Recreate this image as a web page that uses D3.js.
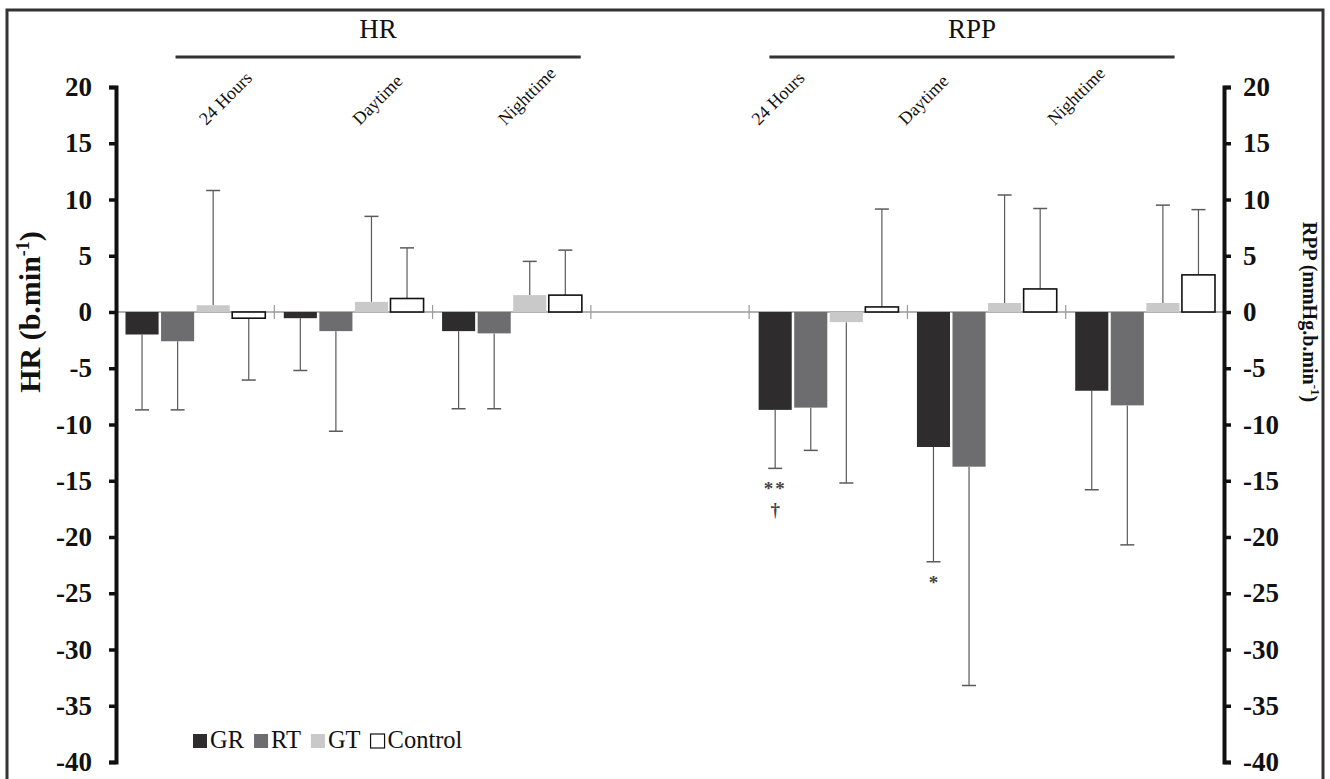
<!DOCTYPE html>
<html>
<head>
<meta charset="utf-8">
<script src="https://cdn.jsdelivr.net/npm/d3@7"></script>
<style>
  body { margin: 0; background: #fff; }
  svg text { font-family: "Liberation Serif", "Times New Roman", serif; }
</style>
</head>
<body>
<svg id="chart" width="1330" height="779"></svg>
<script>
// Categories (the empty slot separates HR from RPP)
const categories = ["HR 24 Hours", "HR Daytime", "HR Nighttime", "", "RPP 24 Hours", "RPP Daytime", "RPP Nighttime"];
const catLabels = ["24 Hours", "Daytime", "Nighttime"];
const groups = ["HR", "RPP"];
const series = ["GR", "RT", "GT", "Control"];

// Mean change per series (null = empty slot)
const grMean      = [-2.0, -0.55, -1.7, null, -8.7, -12.0, -7.0];
const rtMean      = [-2.6, -1.7, -1.9, null, -8.5, -13.75, -8.3];
const gtMean      = [0.6, 0.9, 1.5, null, -0.9, 0.8, 0.8];
const controlMean = [-0.55, 1.2, 1.5, null, 0.45, 2.05, 3.3];

// Standard deviations (one-sided error bars)
const grSD      = [6.7, 4.65, 6.9, null, 5.2, 10.2, 8.8];
const rtSD      = [6.1, 8.9, 6.7, null, 3.8, 19.45, 12.4];
const gtSD      = [10.2, 7.6, 3.0, null, 14.3, 9.6, 8.7];
const controlSD = [5.5, 4.5, 4.0, null, 8.7, 7.15, 5.8];

const yTicks = d3.range(-40, 21, 5);

// Significance marks
const notes = [
    { cat: "RPP 24 Hours", series: "GR", text: "**", line: 0 },
    { cat: "RPP 24 Hours", series: "GR", text: "\u2020", line: 1 },
    { cat: "RPP Daytime", series: "GR", text: "*", line: 0 }
];

const colors = { GR: "#2e2c2d", RT: "#6d6d6f", GT: "#c9c9c9", Control: "#ffffff" };
const means = { GR: grMean, RT: rtMean, GT: gtMean, Control: controlMean };
const sds = { GR: grSD, RT: rtSD, GT: gtSD, Control: controlSD };

const svg = d3.select("#chart");
const plotLeft = 116, plotRight = 1224, plotTop = 87, plotBottom = 762;

// frame
svg.append("rect")
    .attr("x", 7).attr("y", 10).attr("width", 1316).attr("height", 800)
    .attr("fill", "none").attr("stroke", "#333").attr("stroke-width", 3);

const x = d3.scaleBand().domain(categories).range([plotLeft, plotRight]).padding(0);
const bw = x.bandwidth();
const xs = d3.scaleBand().domain(series).range([9.5, bw - 9]).paddingInner(0.07);
const y = d3.scaleLinear().domain([-40, 20]).range([plotBottom, plotTop]);

// rows for bars
const rows = [];
categories.forEach((c, i) => {
    series.forEach(s => {
        if (means[s][i] != null) rows.push({ cat: c, s: s, v: means[s][i], sd: sds[s][i] });
    });
});

// zero line
svg.append("line")
    .attr("x1", plotLeft).attr("x2", plotRight)
    .attr("y1", y(0)).attr("y2", y(0))
    .attr("stroke", "#9a9a9a").attr("stroke-width", 1.5);

// category separators on the zero line
svg.selectAll(".sep")
    .data(categories.slice(1))
    .enter().append("line")
    .attr("class", "sep")
    .attr("x1", d => x(d)).attr("x2", d => x(d))
    .attr("y1", y(0) - 7).attr("y2", y(0) + 7)
    .attr("stroke", "#9a9a9a").attr("stroke-width", 1.2);

// error bars (drawn away from zero)
const err = svg.append("g");
rows.forEach(d => {
    const cx = x(d.cat) + xs(d.s) + xs.bandwidth() / 2;
    const end = d.v >= 0 ? d.v + d.sd : d.v - d.sd;
    err.append("line")
        .attr("x1", cx).attr("x2", cx)
        .attr("y1", y(d.v)).attr("y2", y(end))
        .attr("stroke", "#5a5a5a").attr("stroke-width", 1.2);
    err.append("line")
        .attr("x1", cx - 7).attr("x2", cx + 7)
        .attr("y1", y(end)).attr("y2", y(end))
        .attr("stroke", "#5a5a5a").attr("stroke-width", 1.5);
});

// bars
svg.selectAll(".bar")
    .data(rows)
    .enter().append("rect")
    .attr("class", "bar")
    .attr("x", d => x(d.cat) + xs(d.s))
    .attr("width", xs.bandwidth())
    .attr("y", d => y(Math.max(0, d.v)))
    .attr("height", d => Math.abs(y(d.v) - y(0)))
    .attr("fill", d => colors[d.s])
    .attr("stroke", d => d.s === "Control" ? "#111" : "none")
    .attr("stroke-width", 1.6);

// significance marks
notes.forEach(n => {
    const i = categories.indexOf(n.cat);
    const v = means[n.series][i], sd = sds[n.series][i];
    const cx = x(n.cat) + xs(n.series) + xs.bandwidth() / 2;
    svg.append("text")
        .attr("x", cx).attr("y", y(v - sd) + 27 + n.line * 21)
        .attr("text-anchor", "middle")
        .attr("font-size", 19).attr("font-weight", "bold")
        .attr("letter-spacing", n.text.length > 1 ? 2 : 0)
        .attr("fill", "#444")
        .text(n.text);
});

// axes
function styleAxis(g) {
    g.select(".domain").attr("stroke", "#111").attr("stroke-width", 4);
    g.selectAll(".tick line").attr("stroke", "#111").attr("stroke-width", 3.5);
    g.selectAll(".tick text")
        .attr("font-size", 27).attr("font-weight", "bold").attr("fill", "#111")
        .attr("font-family", "Liberation Serif, Times New Roman, serif");
}
svg.append("g")
    .attr("transform", `translate(${plotLeft},0)`)
    .call(d3.axisLeft(y).tickValues(yTicks).tickSize(7).tickPadding(17).tickFormat(d => String(d)))
    .call(styleAxis);
svg.append("g")
    .attr("transform", `translate(${plotRight},0)`)
    .call(d3.axisRight(y).tickValues(yTicks).tickSize(7).tickPadding(12).tickFormat(d => String(d)))
    .call(styleAxis);

// axis titles
const yl = svg.append("text")
    .attr("transform", `translate(40,${y(0)}) rotate(-90)`)
    .attr("text-anchor", "middle")
    .attr("font-size", 30).attr("font-weight", "bold").attr("fill", "#111");
yl.append("tspan").text("HR (b.min");
yl.append("tspan").attr("font-size", 18).attr("dy", -11).text("-1");
yl.append("tspan").attr("dy", 11).text(")");

const yr = svg.append("text")
    .attr("transform", `translate(1303,${y(0)}) rotate(90)`)
    .attr("text-anchor", "middle")
    .attr("font-size", 20).attr("font-weight", "bold").attr("fill", "#111");
yr.append("tspan").text("RPP (mmHg.b.min");
yr.append("tspan").attr("font-size", 13).attr("dy", -8).text("-1");
yr.append("tspan").attr("dy", 8).text(")");

// group headers: title, rule and slanted category names
const headerStart = [0.376, 4.128];   // in category widths from the left axis
const headerLen = 2.56;
const labelPos = [[0.57, 1.54, 2.46], [4.06, 4.99, 5.93]];  // label start, in category widths
groups.forEach((g, gi) => {
    const x0 = plotLeft + headerStart[gi] * bw;
    const x1 = x0 + headerLen * bw;
    svg.append("line")
        .attr("x1", x0).attr("x2", x1).attr("y1", 57).attr("y2", 57)
        .attr("stroke", "#333").attr("stroke-width", 3);
    svg.append("text")
        .attr("x", (x0 + x1) / 2).attr("y", 38)
        .attr("text-anchor", "middle")
        .attr("font-size", 27).attr("fill", "#111")
        .text(g);
    catLabels.forEach((c, ci) => {
        svg.append("text")
            .attr("transform", `translate(${plotLeft + labelPos[gi][ci] * bw},126) rotate(-45)`)
            .attr("font-size", 18).attr("fill", "#111")
            .text(c);
    });
});

// legend
const legend = svg.append("g").attr("transform", "translate(193,748)");
let lx = 0;
series.forEach(s => {
    legend.append("rect")
        .attr("x", lx).attr("y", -14).attr("width", 14).attr("height", 14)
        .attr("fill", colors[s])
        .attr("stroke", s === "Control" ? "#111" : "none").attr("stroke-width", 1.2);
    const t = legend.append("text")
        .attr("x", lx + 17).attr("y", 0)
        .attr("font-size", 24.5).attr("fill", "#111")
        .text(s);
    lx += 17 + t.node().getComputedTextLength() + 10;
});
</script>
</body>
</html>
